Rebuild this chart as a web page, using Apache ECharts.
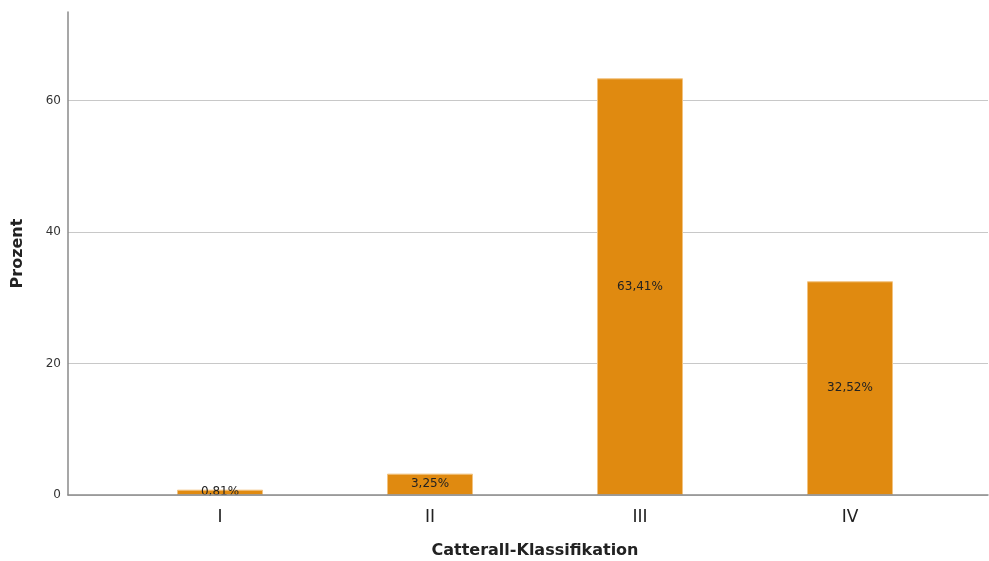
<!DOCTYPE html>
<html><head><meta charset="utf-8">
<script src="https://cdn.jsdelivr.net/npm/echarts@6/dist/echarts.min.js"></script>
<style>html,body{margin:0;padding:0;background:#fff}#c{width:989px;height:561px}</style>
</head><body><div id="c"></div>
<script>
const categories = ['I', 'II', 'III', 'IV'];
const percentValues = [0.81, 3.25, 63.41, 32.52];
const yTicks = [0, 20, 40, 60];

const chart = echarts.init(document.getElementById('c'), null, {renderer: 'canvas'});
const fmt = v => v.toFixed(2).replace('.', ',') + '%';
const yMax = 73.5;
chart.setOption({
  animation: false,
  backgroundColor: '#fff',
  grid: [
    {left: 68, right: 1, top: 12, bottom: 66, outerBoundsMode: 'none', containLabel: false},
    {left: 115, right: 34, top: 12, bottom: 66, outerBoundsMode: 'none', containLabel: false}
  ],
  xAxis: [
    {gridIndex: 0, type: 'category', data: categories, axisLine: {show: true, lineStyle: {color: '#8a8a8a', width: 1.5}},
     axisTick: {show: false}, axisLabel: {show: false}, splitLine: {show: false}, z: 5,
     name: 'Catterall-Klassifikation', nameLocation: 'middle', nameGap: 48,
     nameTextStyle: {fontFamily: 'DejaVu Sans', fontWeight: 'bold', fontSize: 16, color: '#222', padding: [0, 0, 0, 14]}},
    {gridIndex: 1, type: 'category', data: categories, axisLine: {show: false}, axisTick: {show: false},
     axisLabel: {fontFamily: 'DejaVu Sans', fontSize: 17, color: '#222', margin: 14}}
  ],
  yAxis: [
    {gridIndex: 0, type: 'value', min: 0, max: yMax, interval: 20,
     axisLine: {show: true, lineStyle: {color: '#8a8a8a', width: 1.5}}, axisTick: {show: false},
     axisLabel: {fontFamily: 'DejaVu Sans', fontSize: 12, color: '#333', margin: 7,
       formatter: v => yTicks.includes(v) ? String(v) : ''},
     splitLine: {show: true, showMaxLine: false, lineStyle: {color: '#c8c8c8', width: 1.2}},
     name: 'Prozent', nameLocation: 'middle', nameGap: 42,
     nameTextStyle: {fontFamily: 'DejaVu Sans', fontWeight: 'bold', fontSize: 16, color: '#222'}},
    {gridIndex: 1, type: 'value', min: 0, max: yMax, interval: 20, show: false, splitLine: {show: false}}
  ],
  series: [{
    type: 'bar', xAxisIndex: 1, yAxisIndex: 1, data: percentValues, barWidth: 86,
    itemStyle: {color: '#e08a10', borderColor: '#f2c27e', borderWidth: 1},
    label: {show: true, position: 'inside', formatter: p => fmt(p.value),
      fontFamily: 'DejaVu Sans', fontSize: 12, color: '#222'}
  }]
});
</script></body></html>
